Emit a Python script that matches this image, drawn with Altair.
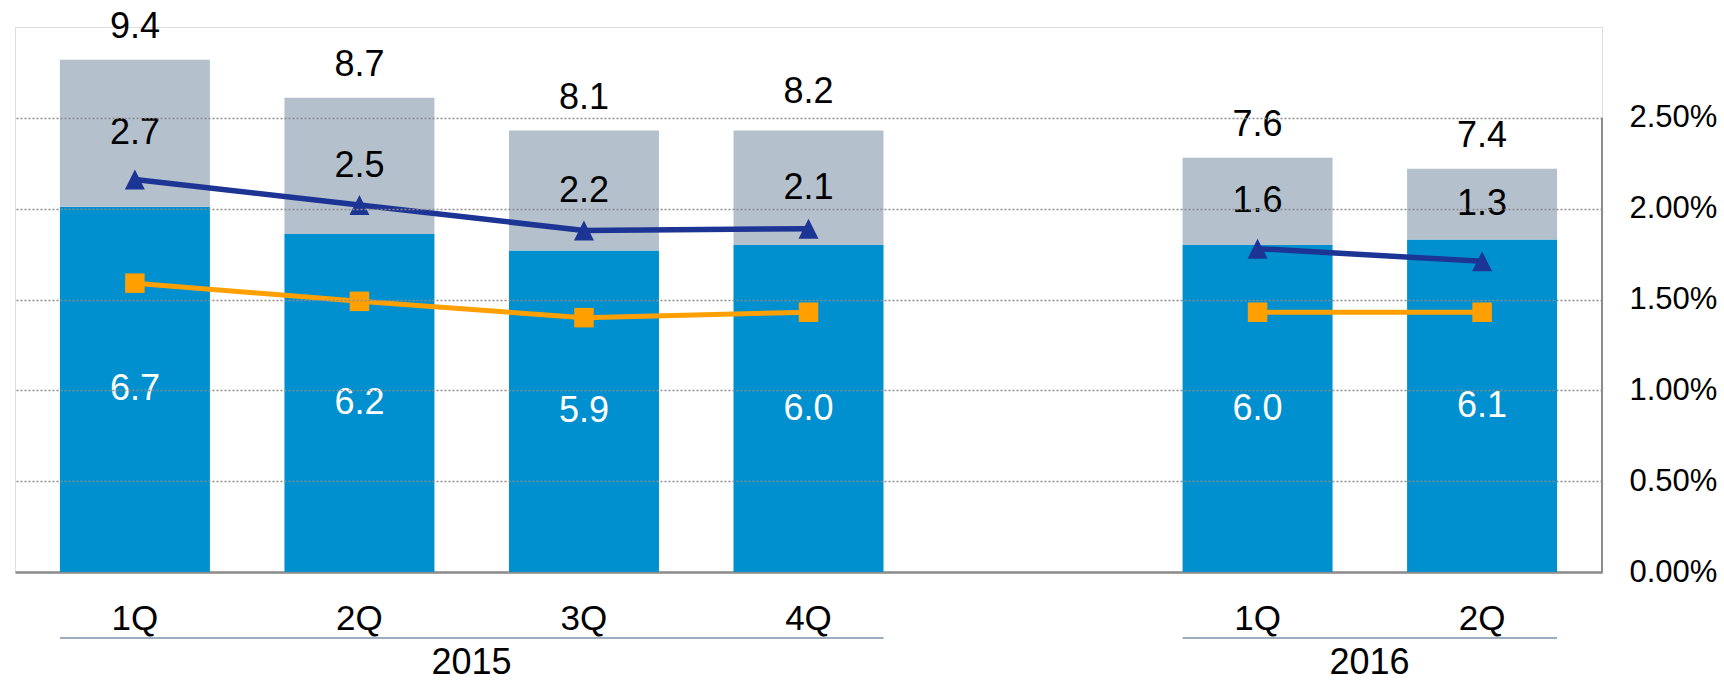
import altair as alt
import pandas as pd

# Quarterly figures
years = ["2015", "2015", "2015", "2015", "2016", "2016"]
quarters = ["1Q", "2Q", "3Q", "4Q", "1Q", "2Q"]
base_part = [6.7, 6.2, 5.9, 6.0, 6.0, 6.1]      # blue segment
upper_part = [2.7, 2.5, 2.2, 2.1, 1.6, 1.3]     # grey segment
totals = [9.4, 8.7, 8.1, 8.2, 7.6, 7.4]         # label above each bar
ratio_a = [2.16, 2.02, 1.88, 1.89, 1.78, 1.71]  # % (triangles)
ratio_b = [1.59, 1.49, 1.40, 1.43, 1.43, 1.43]  # % (squares)

# Year groups shown under the quarter labels
group_names = ["2015", "2016"]
group_first = ["2015 1Q", "2016 1Q"]
group_last = ["2015 4Q", "2016 2Q"]
group_anchor = ["2015 2Q", "2016 1Q"]

BLUE = "#0090d0"
GREY = "#b4c0cc"
NAVY = "#1c3494"
ORANGE = "#ffa000"
AXIS_GREY = "#8c8c8c"
FONT = "Liberation Sans"

# upright triangle as tall as it is wide
TRIANGLE = "M -1 1 L 1 1 L 0 -1 Z"

cats = [f"{y} {q}" for y, q in zip(years, quarters)]
domain = cats[:4] + [" "] + cats[4:]

df = pd.DataFrame({
    "cat": cats,
    "year": years,
    "base": base_part,
    "upper": upper_part,
    "total": totals,
    "ra": [v / 100 for v in ratio_a],
    "rb": [v / 100 for v in ratio_b],
})
df["top"] = df["base"] + df["upper"]
df["base_mid"] = df["base"] / 2
df["upper_mid"] = df["base"] + df["upper"] / 2

groups = pd.DataFrame({
    "group": group_names,
    "first": group_first,
    "last": group_last,
    "anchor": group_anchor,
})

W, H = 1587, 545

x_scale = alt.Scale(domain=domain, paddingInner=0.332, paddingOuter=0.2)
x_axis = alt.Axis(
    title=None,
    labelExpr="length(datum.value) > 3 ? slice(datum.value, 5) : ''",
    ticks=False,
    tickSize=0,
    labelPadding=46,
    labelBaseline="middle",
    labelAngle=0,
    labelFontSize=35,
    labelColor="black",
    labelFont=FONT,
    domainColor=AXIS_GREY,
    domainWidth=2.5,
)


def xenc(field="cat", **kw):
    return alt.X(f"{field}:N", scale=x_scale, sort=domain, axis=x_axis, **kw)


bar_scale = alt.Scale(domain=[0, 10], nice=False, zero=True)
pct_scale = alt.Scale(domain=[0, 0.03], nice=False, zero=True)

base = alt.Chart(df)

blue_bars = base.mark_bar(color=BLUE).encode(
    x=xenc(),
    y=alt.Y("base:Q", scale=bar_scale, axis=None),
)

grey_bars = base.mark_bar(color=GREY).encode(
    x=xenc(),
    y=alt.Y("top:Q", scale=bar_scale, axis=None),
    y2="base:Q",
)

blue_text = base.mark_text(color="white", fontSize=36, font=FONT, baseline="middle").encode(
    x=xenc(),
    y=alt.Y("base_mid:Q", scale=bar_scale, axis=None),
    text=alt.Text("base:Q", format=".1f"),
)

grey_text = base.mark_text(color="black", fontSize=36, font=FONT, baseline="middle").encode(
    x=xenc(),
    y=alt.Y("upper_mid:Q", scale=bar_scale, axis=None),
    text=alt.Text("upper:Q", format=".1f"),
)

total_text = base.mark_text(color="black", fontSize=36, font=FONT, baseline="middle", dy=-33).encode(
    x=xenc(),
    y=alt.Y("total:Q", scale=bar_scale, axis=None),
    text=alt.Text("total:Q", format=".1f"),
)

pct_axis = alt.Axis(
    title=None,
    orient="right",
    values=[0, 0.005, 0.01, 0.015, 0.02, 0.025],
    format=".2%",
    ticks=False,
    domain=False,
    labelFontSize=31,
    labelFont=FONT,
    labelColor="black",
    labelPadding=27,
    grid=True,
    gridColor=AXIS_GREY,
    gridDash=[2, 2],
    gridWidth=1.5,
    zindex=1,
)

line_a = base.mark_line(color=NAVY, strokeWidth=5.5).encode(
    x=xenc(),
    y=alt.Y("ra:Q", scale=pct_scale, axis=pct_axis),
    detail="year:N",
)
pts_a = base.mark_point(shape=TRIANGLE, filled=True, size=400, color=NAVY, opacity=1).encode(
    x=xenc(),
    y=alt.Y("ra:Q", scale=pct_scale, axis=None),
)

line_b = base.mark_line(color=ORANGE, strokeWidth=5).encode(
    x=xenc(),
    y=alt.Y("rb:Q", scale=pct_scale, axis=None),
    detail="year:N",
)
pts_b = base.mark_point(shape="square", filled=True, size=380, color=ORANGE, opacity=1).encode(
    x=xenc(),
    y=alt.Y("rb:Q", scale=pct_scale, axis=None),
)

# right-hand axis line, running from 0% up to the top tick
right_line = alt.Chart(pd.DataFrame({"k": [0]})).mark_rule(color=AXIS_GREY, strokeWidth=2).encode(
    x=alt.value(W),
    y=alt.YDatum(0, scale=pct_scale, axis=None),
    y2=alt.Y2Datum(0.025),
)

# year brackets under the quarter labels
group_line = alt.Chart(groups).mark_rule(color="#7a93ab", strokeWidth=1.5).encode(
    x=xenc("first", bandPosition=0),
    x2=alt.X2("last:N", bandPosition=1),
    y=alt.value(611),
)
group_text = alt.Chart(groups).mark_text(
    color="black", fontSize=36, font=FONT, baseline="middle", dx=37
).encode(
    x=xenc("anchor", bandPosition=1),
    y=alt.value(636),
    text="group:N",
)

chart = alt.layer(
    blue_bars, grey_bars, line_a, pts_a, line_b, pts_b,
    blue_text, grey_text, total_text, right_line, group_line, group_text,
).resolve_scale(y="independent").properties(
    width=W,
    height=H,
    autosize=alt.AutoSizeParams(type="none"),
    padding={"left": 15, "top": 27, "right": 122, "bottom": 110},
).configure_view(stroke=None).configure(font=FONT, background="white")

chart.save("out.html", embed_options={"renderer": "svg", "actions": False})
